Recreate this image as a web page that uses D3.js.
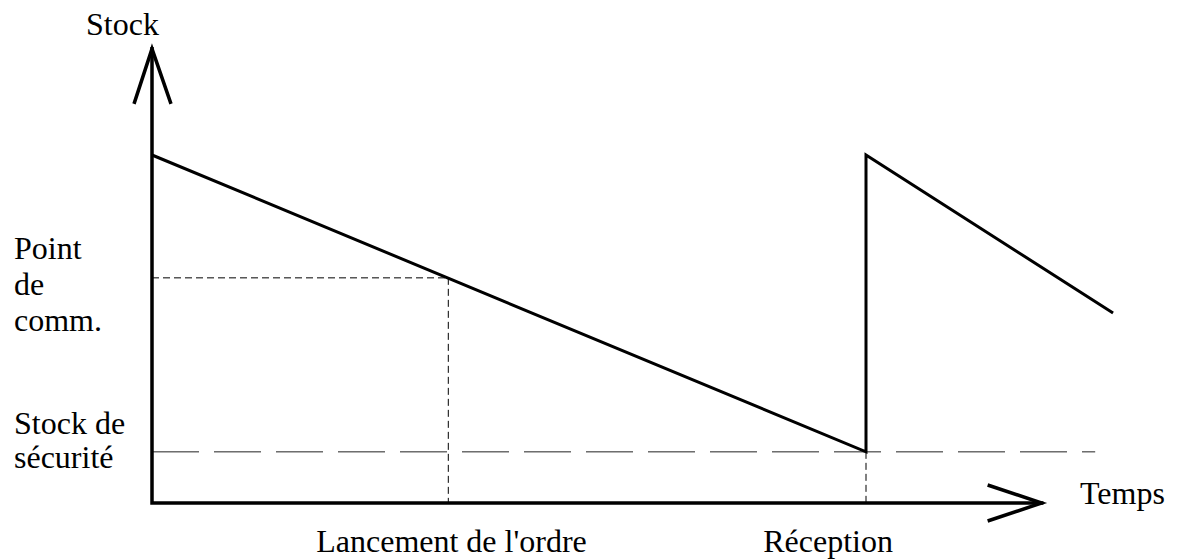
<!DOCTYPE html>
<html>
<head>
<meta charset="utf-8">
<script src="https://cdn.jsdelivr.net/npm/d3@7"></script>
<style>
  html, body { margin: 0; padding: 0; background: #fff; }
  svg { display: block; }
  text { font-family: "Liberation Serif", "Times New Roman", serif; fill: #000; }
</style>
</head>
<body>
<svg id="chart" width="1181" height="560"></svg>
<script>
// ---- data (time units, stock units) ----
const sawTime   = [0, 100, 100, 134.6];
const sawStock  = [100, 14.7, 100, 54.6];
const safetyStock = 14.7;
const safetyEnd   = 132.1;
const reorderPoint = 64.7;
const orderTime    = 41.5;
const receptionTime = 100;
const xAxisEnd = 124.6;
const yAxisEnd = 130.5;
const yLabelLines = ["Point", "de", "comm."];
const ssLabelLines = ["Stock de", "sécurité"];
const xTickLabels = ["Lancement de l'ordre", "Réception"];
const xTickLabelStart = [23.0, 85.6]; // label left edges, time units

const svg = d3.select("#chart");
const x = d3.scaleLinear().domain([0, 100]).range([152, 866]);
const y = d3.scaleLinear().domain([0, 100]).range([503, 155]);

// dashed guides
svg.append("line")
  .attr("x1", x(0)).attr("x2", x(orderTime))
  .attr("y1", y(reorderPoint)).attr("y2", y(reorderPoint))
  .attr("stroke", "#000").attr("stroke-width", 1).attr("stroke-dasharray", "7,4");
svg.append("line")
  .attr("x1", x(orderTime)).attr("x2", x(orderTime))
  .attr("y1", y(reorderPoint)).attr("y2", y(0))
  .attr("stroke", "#000").attr("stroke-width", 1).attr("stroke-dasharray", "7,4");
svg.append("line")
  .attr("x1", x(receptionTime)).attr("x2", x(receptionTime))
  .attr("y1", y(safetyStock)).attr("y2", y(0))
  .attr("stroke", "#000").attr("stroke-width", 1).attr("stroke-dasharray", "7,4");
svg.append("line")
  .attr("x1", x(0)).attr("x2", x(safetyEnd))
  .attr("y1", y(safetyStock)).attr("y2", y(safetyStock))
  .attr("stroke", "#222").attr("stroke-width", 1).attr("stroke-dasharray", "47,15");

// sawtooth
const pts = sawTime.map((t, i) => [t, sawStock[i]]);
svg.append("path")
  .attr("d", d3.line().x(d => x(d[0])).y(d => y(d[1]))(pts))
  .attr("fill", "none").attr("stroke", "#000").attr("stroke-width", 3)
  .attr("stroke-linejoin", "miter");

// axes
const ax = svg.append("g").attr("stroke", "#000").attr("fill", "none")
  .attr("stroke-width", 3.5).attr("stroke-linecap", "square");
ax.append("path").attr("d", d3.line()([[x(0), y(yAxisEnd)], [x(0), y(0)], [x(xAxisEnd), y(0)]]));
const yt = [x(0), y(yAxisEnd)];
ax.append("path").attr("stroke-linecap", "butt")
  .attr("d", d3.line()([[yt[0] - 18, yt[1] + 55], yt, [yt[0] + 19, yt[1] + 55]]));
const xt = [x(xAxisEnd), y(0)];
ax.append("path").attr("stroke-linecap", "butt")
  .attr("d", d3.line()([[xt[0] - 54, xt[1] - 18], xt, [xt[0] - 54, xt[1] + 18]]));

// labels
const fs = 32;
svg.append("text").attr("x", 86).attr("y", 35).attr("font-size", fs).text("Stock");
svg.append("text").attr("x", 1080).attr("y", 504).attr("font-size", fs).text("Temps");
svg.selectAll(".pl").data(yLabelLines).join("text")
  .attr("x", 14).attr("y", (d, i) => 259 + i * 36).attr("font-size", fs).text(d => d);
svg.selectAll(".sl").data(ssLabelLines).join("text")
  .attr("x", 14).attr("y", (d, i) => 434 + i * 34).attr("font-size", fs).text(d => d);
svg.selectAll(".xl").data(xTickLabels).join("text")
  .attr("x", (d, i) => x(xTickLabelStart[i])).attr("y", 552)
  .attr("font-size", fs).text(d => d);
</script>
</body>
</html>
